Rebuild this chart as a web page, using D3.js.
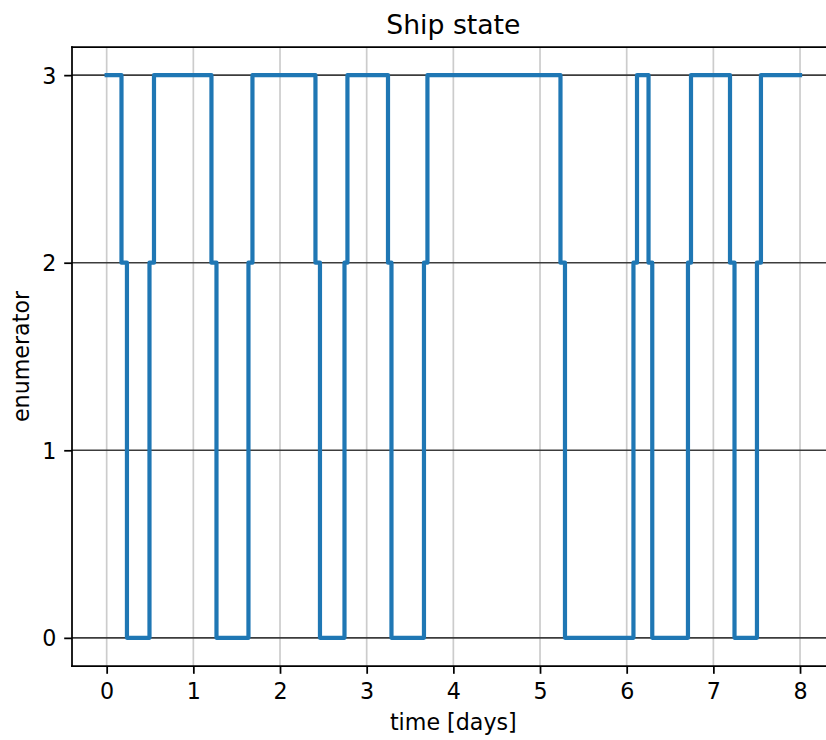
<!DOCTYPE html>
<html>
<head>
<meta charset="utf-8">
<script src="https://cdn.jsdelivr.net/npm/d3@7"></script>
<style>
  html, body { margin: 0; padding: 0; background: #fff; }
  svg { display: block; font-family: "DejaVu Sans", sans-serif; }
</style>
</head>
<body>
<svg id="chart" width="826" height="740"></svg>
<script>
// Ship state over time: each change passes through state 2 before settling.
const timeDays = [
  0.000, 0.171, 0.171, 0.234, 0.234,
  0.494, 0.494, 0.546, 0.546,
  1.209, 1.209, 1.267, 1.267,
  1.636, 1.636, 1.682, 1.682,
  2.409, 2.409, 2.461, 2.461,
  2.744, 2.744, 2.778, 2.778,
  3.246, 3.246, 3.286, 3.286,
  3.661, 3.661, 3.701, 3.701,
  5.236, 5.236, 5.288, 5.288,
  6.078, 6.078, 6.119, 6.119,
  6.252, 6.252, 6.295, 6.295,
  6.707, 6.707, 6.742, 6.742,
  7.192, 7.192, 7.244, 7.244,
  7.503, 7.503, 7.549, 7.549,
  8.000
];
const stateValue = [
  3, 3, 2, 2, 0,
  0, 2, 2, 3,
  3, 2, 2, 0,
  0, 2, 2, 3,
  3, 2, 2, 0,
  0, 2, 2, 3,
  3, 2, 2, 0,
  0, 2, 2, 3,
  3, 2, 2, 0,
  0, 2, 2, 3,
  3, 2, 2, 0,
  0, 2, 2, 3,
  3, 2, 2, 0,
  0, 2, 2, 3,
  3
];
const xTicks = [0, 1, 2, 3, 4, 5, 6, 7, 8];
const yTicks = [0, 1, 2, 3];

const titleText = "Ship state";
const xLabel = "time [days]";
const yLabel = "enumerator";

const points = timeDays.map((t, i) => ({ t: t, v: stateValue[i] }));

const svg = d3.select("#chart");
const plotLeft = 72, plotRight = 834.7, plotTop = 47, plotBottom = 666;
const tickFont = 22.2;

const x = d3.scaleLinear().domain([-0.4, 8.4]).range([plotLeft, plotRight]);
const y = d3.scaleLinear().domain([-0.15, 3.15]).range([plotBottom, plotTop]);

const plot = svg.append("g");

// vertical grid
plot.selectAll("line.vgrid").data(xTicks).join("line")
  .attr("class", "vgrid")
  .attr("x1", d => x(d)).attr("x2", d => x(d))
  .attr("y1", plotTop).attr("y2", plotBottom)
  .attr("stroke", "#cccccc").attr("stroke-width", 1.7);

// horizontal grid
plot.selectAll("line.hgrid").data(yTicks).join("line")
  .attr("class", "hgrid")
  .attr("x1", plotLeft).attr("x2", plotRight)
  .attr("y1", d => y(d)).attr("y2", d => y(d))
  .attr("stroke", "#3c3c3c").attr("stroke-width", 1.6);

// state line
const line = d3.line().x(d => x(d.t)).y(d => y(d.v));
plot.append("path")
  .datum(points)
  .attr("d", line)
  .attr("fill", "none")
  .attr("stroke", "#1f77b4")
  .attr("stroke-width", 4.2)
  .attr("stroke-linejoin", "round")
  .attr("stroke-linecap", "square");

// axes
const xAxis = svg.append("g")
  .attr("transform", `translate(0,${plotBottom})`)
  .call(d3.axisBottom(x).tickValues(xTicks).tickFormat(d3.format("d"))
    .tickSize(7.8).tickPadding(7.8).tickSizeOuter(0));
const yAxis = svg.append("g")
  .attr("transform", `translate(${plotLeft},0)`)
  .call(d3.axisLeft(y).tickValues(yTicks).tickFormat(d3.format("d"))
    .tickSize(7.8).tickPadding(7.8).tickSizeOuter(0));

[xAxis, yAxis].forEach(g => {
  g.select(".domain").remove();
  g.selectAll(".tick line").attr("stroke", "#000").attr("stroke-width", 1.75);
  g.selectAll(".tick text")
    .attr("fill", "#000")
    .style("font-family", "'DejaVu Sans', sans-serif")
    .style("font-size", tickFont + "px");
});
xAxis.selectAll(".tick text").attr("y", 33).attr("dy", null);
yAxis.selectAll(".tick text").attr("x", -15.6).attr("dy", "0.36em");

// spines: left, top, bottom (right falls outside the canvas)
const spine = (x1, y1, x2, y2) => svg.append("line")
  .attr("x1", x1).attr("y1", y1).attr("x2", x2).attr("y2", y2)
  .attr("stroke", "#000").attr("stroke-width", 1.75).attr("stroke-linecap", "square");
spine(plotLeft, plotTop, plotLeft, plotBottom);
spine(plotLeft, plotTop, plotRight, plotTop);
spine(plotLeft, plotBottom, plotRight, plotBottom);

// title and axis labels
const cx = (plotLeft + plotRight) / 2;
svg.append("text").attr("x", cx).attr("y", 33.5)
  .attr("text-anchor", "middle").style("font-size", "26.7px").text(titleText);
svg.append("text").attr("x", cx).attr("y", 730)
  .attr("text-anchor", "middle").style("font-size", tickFont + "px").text(xLabel);
svg.append("text")
  .attr("transform", `translate(29,${(plotTop + plotBottom) / 2}) rotate(-90)`)
  .attr("text-anchor", "middle").style("font-size", tickFont + "px").text(yLabel);
</script>
</body>
</html>
